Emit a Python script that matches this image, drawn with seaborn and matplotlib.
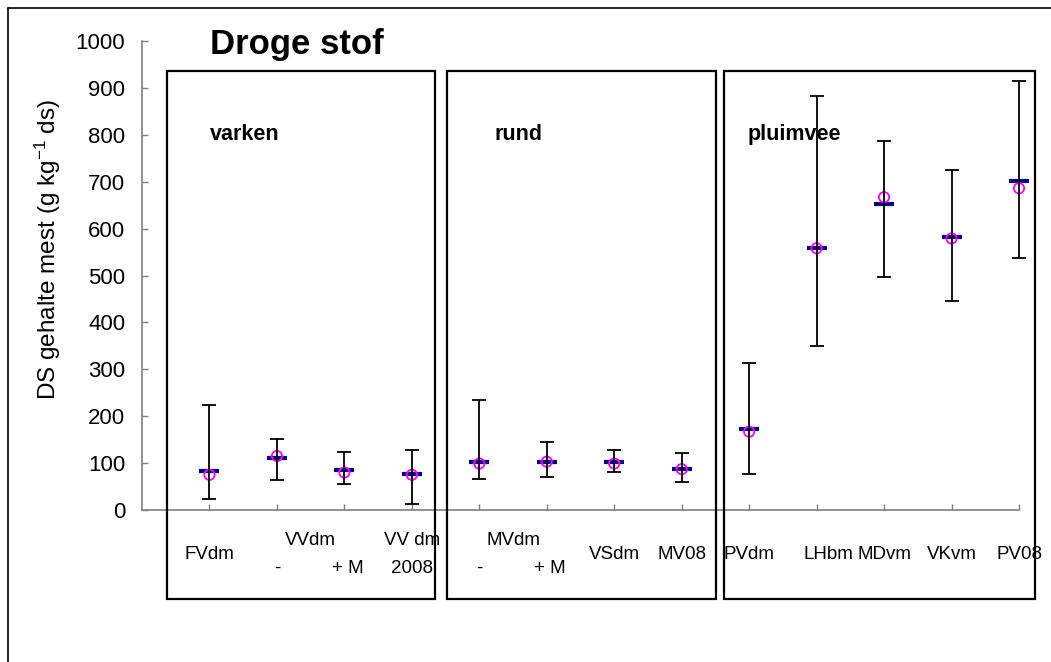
import numpy as np
import pandas as pd
import matplotlib
matplotlib.use("Agg")
import matplotlib.pyplot as plt
import seaborn as sns
from matplotlib.patches import Rectangle
from matplotlib.lines import Line2D
from matplotlib.transforms import blended_transform_factory

# ---------------- data ----------------
categories = ["FVdm", "VVdm -", "VVdm + M", "VV dm 2008", "MVdm -", "MVdm + M",
              "VSdm", "MV08", "PVdm", "LHbm", "MDvm", "VKvm", "PV08"]
median_vals = [84, 111, 85, 77, 103, 103, 103, 87, 172, 559, 652, 583, 701]
mean_vals = [75, 115, 80, 75, 99, 103, 99, 87, 167, 558, 667, 579, 686]
lower_vals = [24, 63, 55, 12, 67, 70, 81, 59, 77, 350, 496, 446, 537]
upper_vals = [224, 151, 124, 128, 235, 144, 128, 121, 313, 883, 787, 726, 914]

# tick label lines: (top line, bottom line) or single-line label
label_top = ["", "VVdm", "", "VV dm", "MVdm", "", "", "", "", "", "", "", ""]
label_bottom = ["", "-", "+ M", "2008", "-", "+ M", "", "", "", "", "", "", ""]
label_single = ["FVdm", "", "", "", "", "", "VSdm", "MV08", "PVdm", "LHbm", "MDvm", "VKvm", "PV08"]

groups = ["varken", "rund", "pluimvee"]
title = "Droge stof"
ylabel = "DS gehalte mest (g kg$^{-1}$ ds)"
yticks = list(range(0, 1001, 100))

df = pd.DataFrame({
    "cat": categories,
    "pos": np.arange(len(categories)),
    "median": median_vals,
    "mean": mean_vals,
    "lower": lower_vals,
    "upper": upper_vals,
})

# ---------------- style ----------------
sns.set_style("white")
plt.rcParams["font.family"] = ["Liberation Sans", "DejaVu Sans"]
plt.rcParams["text.color"] = "black"
plt.rcParams["axes.labelcolor"] = "black"
plt.rcParams["xtick.color"] = "black"
plt.rcParams["ytick.color"] = "black"
plt.rcParams["mathtext.fontset"] = "custom"
plt.rcParams["mathtext.rm"] = "Liberation Sans"
plt.rcParams["mathtext.it"] = "Liberation Sans"
plt.rcParams["mathtext.bf"] = "Liberation Sans:bold"

W, H = 1051, 662
fig = plt.figure(figsize=(W / 100, H / 100), dpi=100)
fig.patch.set_facecolor("white")

def fx(px):
    return px / W

def fy(py):
    return 1 - py / H

ax = fig.add_axes([fx(142), fy(510), fx(1019) - fx(142), fy(41) - fy(510)])

# error bars (min-max)
eb = ax.errorbar(df["pos"], df["median"],
                 yerr=[df["median"] - df["lower"], df["upper"] - df["median"]],
                 fmt="none", ecolor="black", elinewidth=1.3, capsize=5, capthick=1.3, zorder=4)
for art in eb.lines[1] + eb.lines[2]:
    art.set_clip_on(False)
for art in eb.lines[2]:
    art.set_clip_on(False)
# median dashes
sns.scatterplot(data=df, x="pos", y="median", marker="_", s=210, color="#000080",
                edgecolor="#000080", linewidth=3.0, ax=ax, zorder=2, legend=False,
                clip_on=False)
# mean circles
sns.scatterplot(data=df, x="pos", y="mean", marker="o", s=55, facecolor="none",
                edgecolor="#FF00FF", linewidth=1.3, ax=ax, zorder=3, legend=False,
                clip_on=False)

ax.set_xlim(-1, len(categories) - 1)
ax.set_ylim(0, 1000)
ax.set_yticks(yticks)
ax.set_yticklabels([str(t) for t in yticks], fontsize=16, color="black")
ax.set_xticks(df["pos"])
ax.set_xticklabels([])
ax.set_xlabel("")
ax.set_ylabel("")
ax.tick_params(axis="y", left=True, direction="in", length=4.5, width=1.0,
               color="#808080", labelcolor="black", pad=12)
ax.tick_params(axis="x", bottom=True, direction="in", length=4.5, width=1.0, color="#808080")
for s in ["top", "right"]:
    ax.spines[s].set_visible(False)
for s in ["left", "bottom"]:
    ax.spines[s].set_color("#808080")
    ax.spines[s].set_linewidth(1.2)
ax.patch.set_alpha(0)

# x tick labels as text
tr = blended_transform_factory(ax.transData, fig.transFigure)
n = len(categories)
for i in range(n):
    if label_single[i]:
        dx = 0.17 if label_single[i] == "LHbm" else 0.0
        ax.text(i + dx, fy(559), label_single[i], transform=tr, ha="center", va="baseline",
                fontsize=13.5, color="black", clip_on=False)
    if label_top[i]:
        xc = i + 0.5 if (i + 1 < n and label_top[i + 1] == "" and label_bottom[i + 1]) else i
        ax.text(xc, fy(545), label_top[i], transform=tr, ha="center", va="baseline",
                fontsize=13.5, color="black", clip_on=False)
    if label_bottom[i]:
        dx = 0.05 if label_bottom[i] == "+ M" else 0.0
        ax.text(i + dx, fy(573), label_bottom[i], transform=tr, ha="center", va="baseline",
                fontsize=13.5, color="black", clip_on=False)

# group boxes
boxes_px = [(167, 70.7, 435, 599), (447, 70.7, 716, 599), (724, 70.7, 1035, 599)]
for (x0, y0, x1, y1) in boxes_px:
    fig.add_artist(Rectangle((fx(x0), fy(y1)), fx(x1) - fx(x0), fy(y0) - fy(y1),
                             transform=fig.transFigure, fill=False, ec="black", lw=1.6, zorder=5))

# group labels
group_px = [210, 495, 748]
for g, gx in zip(groups, group_px):
    fig.text(fx(gx), fy(140), g, fontsize=15.5, fontweight="bold", ha="left",
             va="baseline", color="black")

# title
fig.text(fx(210), fy(54), title, fontsize=25, fontweight="bold", ha="left",
         va="baseline", color="black")

# y label
fig.text(fx(47.5), fy(250), ylabel, fontsize=17.5, rotation=90, ha="center",
         va="center", color="black")

# outer frame lines (top and left)
fig.add_artist(Line2D([fx(7.5), 1.0], [fy(7.5), fy(7.5)], transform=fig.transFigure,
                      color="black", lw=1.2))
fig.add_artist(Line2D([fx(7.5), fx(7.5)], [fy(7.5), 0.0], transform=fig.transFigure,
                      color="black", lw=1.2))

fig.savefig("out.png", dpi=100, facecolor="white")
